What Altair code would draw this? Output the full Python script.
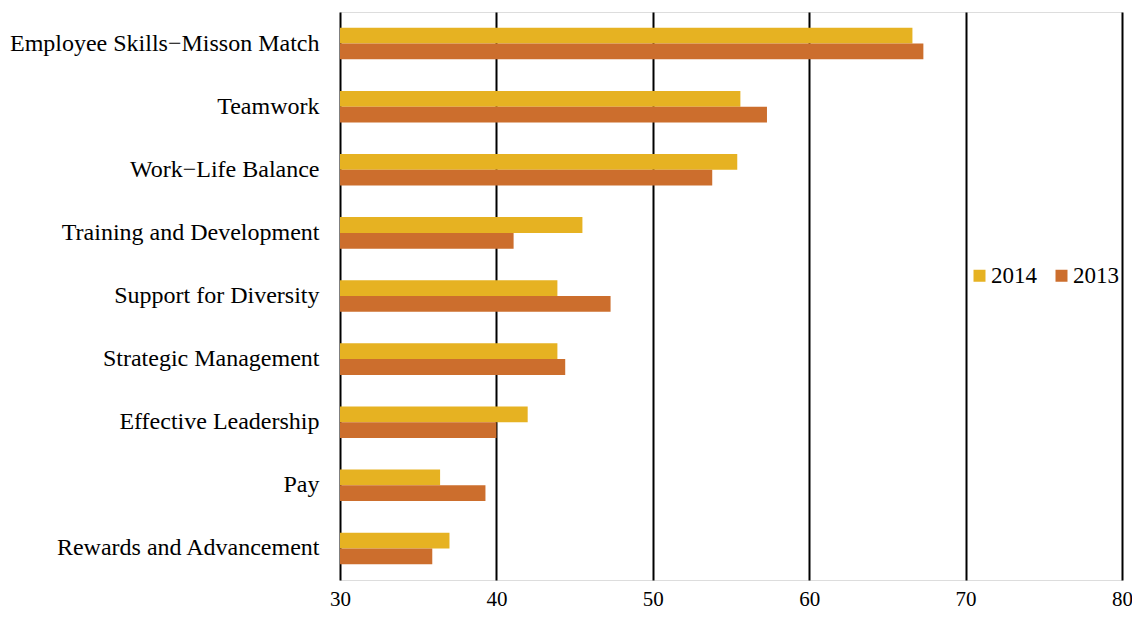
import altair as alt
import pandas as pd

categories = [
    "Employee Skills\u2212Misson Match",
    "Teamwork",
    "Work\u2212Life Balance",
    "Training and Development",
    "Support for Diversity",
    "Strategic Management",
    "Effective Leadership",
    "Pay",
    "Rewards and Advancement\u00a0",
]
series = ["2014", "2013"]
values_2014 = [66.6, 55.6, 55.4, 45.5, 43.9, 43.9, 42.0, 36.4, 37.0]
values_2013 = [67.3, 57.3, 53.8, 41.1, 47.3, 44.4, 40.0, 39.3, 35.9]
x_ticks = [30, 40, 50, 60, 70, 80]
colors = ["#E6B222", "#CC6E2D"]

rows = []
for c, a, b in zip(categories, values_2014, values_2013):
    rows.append({"category": c, "year": "2014", "value": a})
    rows.append({"category": c, "year": "2013", "value": b})
df = pd.DataFrame(rows)

font = "Liberation Serif"

chart = (
    alt.Chart(df)
    .mark_bar()
    .encode(
        y=alt.Y(
            "category:N",
            sort=categories,
            title=None,
            scale=alt.Scale(paddingInner=0.5, paddingOuter=0.25),
            axis=alt.Axis(
                domain=False,
                ticks=False,
                grid=False,
                labelPadding=21,
                labelFontSize=24,
                labelFont=font,
                labelColor="#000000",
                labelLimit=400,
            ),
        ),
        yOffset=alt.YOffset("year:N", sort=series),
        x=alt.X(
            "value:Q",
            title=None,
            scale=alt.Scale(domain=[30, 80], nice=False, zero=False),
            axis=alt.Axis(
                values=x_ticks,
                grid=True,
                gridColor="#000000",
                gridWidth=2,
                gridOpacity=1,
                domain=False,
                ticks=False,
                labelFlush=False,
                labelPadding=8,
                labelFontSize=21,
                labelFont=font,
                labelColor="#000000",
            ),
        ),
        x2=alt.datum(30),
        color=alt.Color(
            "year:N",
            sort=series,
            scale=alt.Scale(domain=series, range=colors),
            legend=alt.Legend(
                title=None,
                orient="none",
                direction="horizontal",
                legendX=628,
                legendY=252,
                symbolType="square",
                symbolSize=144,
                symbolStrokeWidth=0,
                labelFontSize=23,
                labelFont=font,
                labelColor="#000000",
                columnPadding=13,
                labelOffset=0,
            ),
        ),
    )
    .properties(
        width=782,
        height=568,
        autosize=alt.AutoSizeParams(type="none"),
        padding={"top": 4, "left": 332, "right": 10, "bottom": 30},
    )
    .configure_view(stroke="#FFFFFF", strokeOpacity=0, strokeWidth=0)
    .configure_axis(domain=False, gridCap="butt")
    .configure_axisY(grid=False, domain=False)
    .configure(background="#FFFFFF")
)

chart.save("out.html", embed_options={"renderer": "svg", "actions": False})
